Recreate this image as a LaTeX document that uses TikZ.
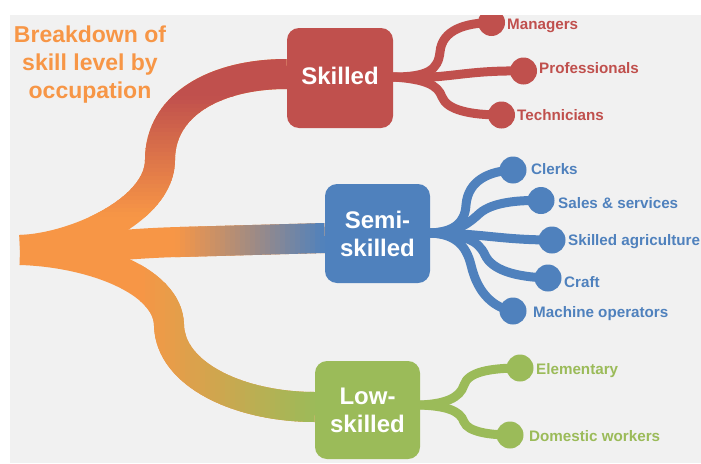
\documentclass[tikz,border=0pt]{standalone}
\usepackage{fontspec}
\setmainfont{Liberation Sans}
\usetikzlibrary{calc}
\pgfdeclarelayer{background}
\pgfsetlayers{background,main}
\definecolor{skred}{HTML}{C0504D}
\definecolor{skorange}{HTML}{F79646}
\definecolor{skblue}{HTML}{4F81BD}
\definecolor{skgreen}{HTML}{9BBB59}
\definecolor{bggray}{HTML}{F1F1F1}
\tikzset{
  band/.style={line width=30pt},
  twig/.style={line width=9pt, line cap=round},
  leaf/.style={circle, fill, inner sep=0pt, minimum size=27pt},
  lbl/.style={inner sep=0pt, font=\fontsize{15.2}{18}\selectfont\bfseries},
  catbox/.style={rounded corners=12pt, text=white, align=center, inner sep=0pt,
     font=\fontsize{24}{28}\selectfont\bfseries},
  ttlstyle/.style={inner sep=0pt, align=center, text=skorange,
     font=\fontsize{23}{28}\selectfont\bfseries}
}
\begin{document}
\begin{tikzpicture}[x=1pt,y=-1pt]
\useasboundingbox (0,0) rectangle (701,463);
\begin{scope}
\clip (10,15) rectangle (701,463);
% category boxes
\node[catbox, fill=skred, minimum width=106pt, minimum height=100pt] (sk) at (340,78) {\raisebox{4pt}{Skilled}};
\node[catbox, fill=skblue, minimum width=105pt, minimum height=99pt] (semi) at (377.5,233.5) {Semi-\\skilled};
\node[catbox, fill=skgreen, minimum width=105pt, minimum height=98pt] (low) at (367.5,410) {Low-\\skilled};
% leaves
\node[leaf, fill=skred] (m1) at (491.5,22.5) {};
\node[leaf, fill=skred] (m2) at (523.5,71) {};
\node[leaf, fill=skred] (m3) at (501.5,115) {};
\node[leaf, fill=skblue] (c1) at (513,170) {};
\node[leaf, fill=skblue] (c2) at (541,200.5) {};
\node[leaf, fill=skblue] (c3) at (552,240) {};
\node[leaf, fill=skblue] (c4) at (548,278) {};
\node[leaf, fill=skblue] (c5) at (513,311) {};
\node[leaf, fill=skgreen] (e1) at (520,368) {};
\node[leaf, fill=skgreen] (e2) at (510,435) {};
\coordinate (skout) at (393,77);
\coordinate (semiout) at (430,233);
\coordinate (lowout) at (420,405);
% twigs
\draw[twig, skred] (skout) .. controls (428,77) and (438,70) .. (440,52) .. controls (442,30) and (465,23) .. (m1.center);
\draw[twig, skred] (skout) .. controls (450,80) and (460,70) .. (m2.center);
\draw[twig, skred] (skout) .. controls (425,79) and (438,85) .. (442,97) .. controls (447,110) and (470,115) .. (m3.center);
\draw[twig, skblue] (semiout) .. controls (455,232) and (465,222) .. (466,205) .. controls (468,180) and (490,171) .. (c1.center);
\draw[twig, skblue] (semiout) .. controls (460,232) and (470,222) .. (480,213) .. controls (492,203) and (515,200) .. (c2.center);
\draw[twig, skblue] (semiout) .. controls (480,233) and (500,240) .. (c3.center);
\draw[twig, skblue] (semiout) .. controls (465,235) and (478,240) .. (485,255) .. controls (492,270) and (515,277) .. (c4.center);
\draw[twig, skblue] (semiout) .. controls (455,234) and (466,245) .. (471,265) .. controls (478,295) and (495,308) .. (c5.center);
\draw[twig, skgreen] (lowout) .. controls (445,404) and (460,398) .. (464,385) .. controls (468,372) and (490,368) .. (e1.center);
\draw[twig, skgreen] (lowout) .. controls (445,406) and (460,410) .. (464,422) .. controls (468,432) and (490,435) .. (e2.center);
% labels
\node[lbl, text=skred, anchor=base west] (t1) at (507,29) {Managers};
\node[lbl, text=skred, anchor=base west] (t2) at (539,73) {Professionals};
\node[lbl, text=skred, anchor=base west] (t3) at (517,120) {Technicians};
\node[lbl, text=skblue, anchor=base west] (t4) at (531,174) {Clerks};
\node[lbl, text=skblue, anchor=base west] (t5) at (558,208) {Sales \& services};
\node[lbl, text=skblue, anchor=base west] (t6) at (568,245) {Skilled agriculture};
\node[lbl, text=skblue, anchor=base west] (t7) at (564,287) {Craft};
\node[lbl, text=skblue, anchor=base west] (t8) at (533,317) {Machine operators};
\node[lbl, text=skgreen, anchor=base west] (t9) at (536,374) {Elementary};
\node[lbl, text=skgreen, anchor=base west] (t10) at (529,441) {Domestic workers};
% title
\node[ttlstyle, anchor=north] (ttl) at (90,26) {Breakdown of\\skill level by\\occupation};
\end{scope}
% main bands, behind the boxes
\coordinate (root) at (20,250);
\coordinate (skin) at ($(sk.west)+(0,-4)$);
\coordinate (semin) at ($(semi.west)+(0,4.5)$);
\coordinate (lowin) at ($(low.west)+(0,-3)$);
\def\skpath{(root) .. controls (75,248) and (160,210) .. (160,160) .. controls (160,105) and (215,74) .. (skin)}
\def\semipath{(root) .. controls (90,249) and (130,243) .. (180,242) -- (semin)}
\def\lowpath{(root) .. controls (90,252) and (168,280) .. (169,325) .. controls (170,375) and (240,407) .. (lowin)}
\begin{pgfonlayer}{background}
\fill[bggray] (10,15) rectangle (701,463);
% skilled band
\draw[band, skorange] \skpath;
\begin{scope}\clip (0,0) rectangle (701,96); \draw[band, skred] \skpath; \end{scope}
\foreach \i in {0,...,29}{
  \pgfmathsetmacro\ya{96+4*\i}
  \pgfmathsetmacro\yb{\ya+4.6}
  \pgfmathtruncatemacro\p{100-100*(\i+0.5)/30}
  \begin{scope}\clip (0,\ya) rectangle (701,\yb); \draw[band, skred!\p!skorange] \skpath; \end{scope}
}
% semi band
\draw[band, skorange] \semipath;
\foreach \i in {0,...,29}{
  \pgfmathsetmacro\xa{175+5*\i}
  \pgfmathsetmacro\xb{\xa+5.6}
  \pgfmathtruncatemacro\p{100*(\i+0.5)/30}
  \begin{scope}\clip (\xa,0) rectangle (\xb,463); \draw[band, skblue!\p!skorange] \semipath; \end{scope}
}
% low band
\draw[band, skorange] \lowpath;
\foreach \i in {0,...,34}{
  \pgfmathsetmacro\xa{140+5*\i}
  \pgfmathsetmacro\xb{\xa+5.6}
  \pgfmathtruncatemacro\p{100*(\i+0.5)/35}
  \begin{scope}\clip (\xa,0) rectangle (\xb,463); \draw[band, skgreen!\p!skorange] \lowpath; \end{scope}
}
\end{pgfonlayer}
\end{tikzpicture}
\end{document}
